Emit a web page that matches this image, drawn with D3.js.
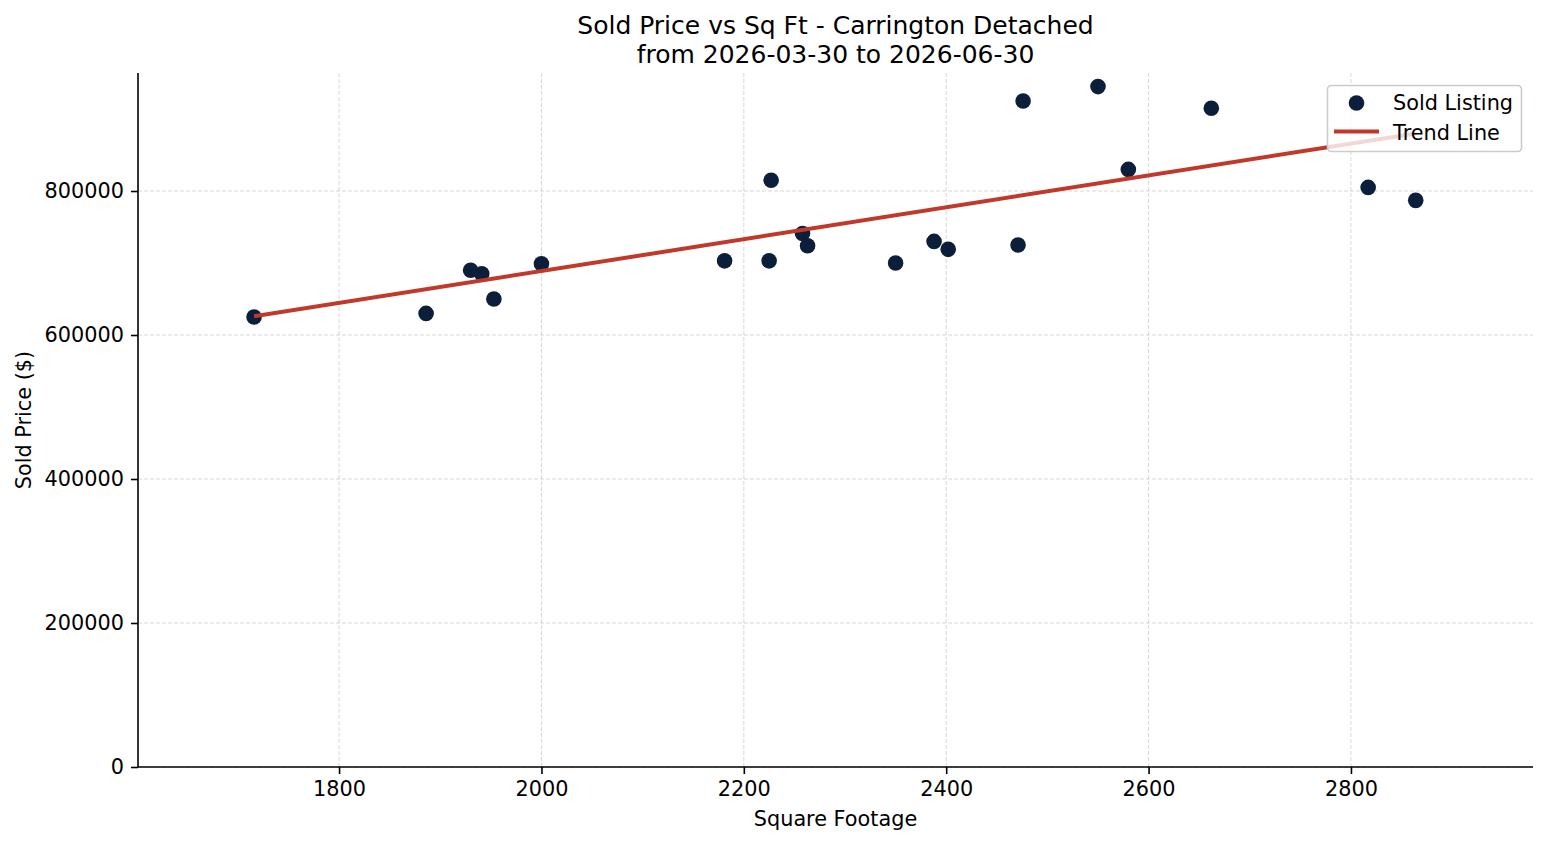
<!DOCTYPE html>
<html>
<head>
<meta charset="utf-8">
<script src="https://cdn.jsdelivr.net/npm/d3@7"></script>
<style>
  html, body { margin: 0; padding: 0; background: #fff; }
  svg { display: block; font-family: "DejaVu Sans", sans-serif; }
</style>
</head>
<body>
<svg id="chart" width="1547" height="845"></svg>
<script>
const sqft = [1716, 1886, 1930, 1941, 1953, 2000, 2181, 2225, 2227, 2258, 2263, 2350, 2388, 2402, 2471, 2476, 2550, 2580, 2662, 2817, 2864];
const price = [625000, 630000, 690000, 685000, 650000, 699000, 703000, 703000, 815000, 741000, 724000, 700000, 730000, 719000, 725000, 925000, 945000, 830000, 915000, 805000, 787000];
const trendX = [1716, 2864];
const trendY = [626000, 880000];
const xTicks = [1800, 2000, 2200, 2400, 2600, 2800];
const yTicks = [0, 200000, 400000, 600000, 800000];
const titleLines = ["Sold Price vs Sq Ft - Carrington Detached", "from 2026-03-30 to 2026-06-30"];
const legendLabels = ["Sold Listing", "Trend Line"];

const W = 1547, H = 845;
const m = { left: 138, right: 1533, top: 73, bottom: 767 };
const svg = d3.select("#chart");
const x = d3.scaleLinear().domain([1601.3, 2979.9]).range([m.left, m.right]);
const y = d3.scaleLinear().domain([0, 963900]).range([m.bottom, m.top]);

const dotColor = "#0b1f3b";
const lineColor = "#c0392b";
const fs = 20.8;

// grid
const grid = svg.append("g");
grid.selectAll("line.gx").data(xTicks).enter().append("line")
  .attr("x1", d => x(d)).attr("x2", d => x(d))
  .attr("y1", m.top).attr("y2", m.bottom)
  .attr("stroke", "#b0b0b0").attr("stroke-opacity", 0.5)
  .attr("stroke-width", 1).attr("stroke-dasharray", "4,2");
grid.selectAll("line.gy").data(yTicks).enter().append("line")
  .attr("x1", m.left).attr("x2", m.right)
  .attr("y1", d => y(d)).attr("y2", d => y(d))
  .attr("stroke", "#b0b0b0").attr("stroke-opacity", 0.5)
  .attr("stroke-width", 1).attr("stroke-dasharray", "4,2");

// axes
const xAxis = svg.append("g").attr("transform", `translate(0,${m.bottom})`)
  .call(d3.axisBottom(x).tickValues(xTicks).tickFormat(d3.format("d")).tickSize(7).tickPadding(7));
const yAxis = svg.append("g").attr("transform", `translate(${m.left},0)`)
  .call(d3.axisLeft(y).tickValues(yTicks).tickFormat(d3.format("d")).tickSize(7).tickPadding(7));
[xAxis, yAxis].forEach(a => {
  a.select(".domain").remove();
  a.selectAll(".tick line").attr("stroke", "#000").attr("stroke-width", 1.6);
  a.selectAll(".tick text").attr("fill", "#000").style("font-size", fs + "px").style("font-family", "DejaVu Sans");
});
// spines
svg.append("line").attr("x1", m.left).attr("x2", m.left).attr("y1", m.top).attr("y2", m.bottom)
  .attr("stroke", "#000").attr("stroke-width", 1.6);
svg.append("line").attr("x1", m.left).attr("x2", m.right).attr("y1", m.bottom).attr("y2", m.bottom)
  .attr("stroke", "#000").attr("stroke-width", 1.6);

// points
const pts = sqft.map((d, i) => ({ x: d, y: price[i] }));
svg.append("g").selectAll("circle").data(pts).enter().append("circle")
  .attr("cx", d => x(d.x)).attr("cy", d => y(d.y)).attr("r", 7.8)
  .attr("fill", dotColor);

// trend line
const tr = trendX.map((d, i) => ({ x: d, y: trendY[i] }));
svg.append("path").datum(tr)
  .attr("d", d3.line().x(d => x(d.x)).y(d => y(d.y)))
  .attr("stroke", lineColor).attr("stroke-width", 4).attr("fill", "none");

// titles
svg.append("g").selectAll("text").data(titleLines).enter().append("text")
  .attr("x", (m.left + m.right) / 2).attr("y", (d, i) => 34 + i * 28.5)
  .attr("text-anchor", "middle").style("font-size", "25px").attr("fill", "#000")
  .text(d => d);

svg.append("text").attr("x", (m.left + m.right) / 2).attr("y", 826)
  .attr("text-anchor", "middle").style("font-size", fs + "px").text("Square Footage");
svg.append("text").attr("transform", `translate(31,${(m.top + m.bottom) / 2}) rotate(-90)`)
  .attr("text-anchor", "middle").style("font-size", fs + "px").text("Sold Price ($)");

// legend
const lg = svg.append("g");
lg.append("rect").attr("x", 1327.5).attr("y", 85.5).attr("width", 194).attr("height", 66)
  .attr("rx", 4).attr("fill", "#fff").attr("fill-opacity", 0.8)
  .attr("stroke", "#cccccc").attr("stroke-width", 1.6);
lg.append("circle").attr("cx", 1356.5).attr("cy", 103).attr("r", 7.8).attr("fill", dotColor);
lg.append("line").attr("x1", 1334).attr("x2", 1379).attr("y1", 131.5).attr("y2", 131.5)
  .attr("stroke", lineColor).attr("stroke-width", 4);
lg.selectAll("text").data(legendLabels).enter().append("text")
  .attr("x", 1393).attr("y", (d, i) => 110 + i * 29.5)
  .style("font-size", fs + "px").attr("fill", "#000").text(d => d);
</script>
</body>
</html>
